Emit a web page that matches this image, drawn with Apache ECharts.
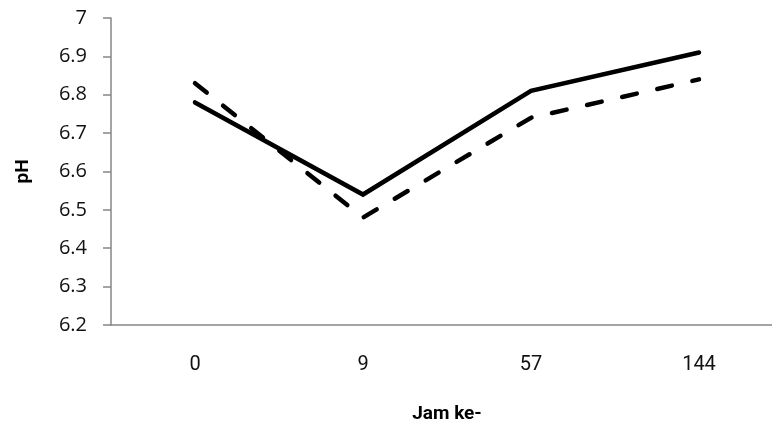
<!DOCTYPE html>
<html>
<head>
<meta charset="utf-8">
<script src="https://cdn.jsdelivr.net/npm/echarts@6/dist/echarts.min.js"></script>
<style>html,body{margin:0;padding:0;background:#fff;}#c{width:772px;height:427px;}</style>
</head>
<body>
<div id="c"></div>
<script>
var categories = ['0', '9', '57', '144'];
var seriesSolid = [6.78, 6.54, 6.81, 6.91];
var seriesDashed = [6.83, 6.48, 6.74, 6.84];
var yMin = 6.2, yMax = 7, yInterval = 0.1;

var chart = echarts.init(document.getElementById('c'), null, {renderer: 'canvas'});
chart.setOption({
  animation: false,
  grid: {left: 111, right: -11, top: 18, bottom: 102, containLabel: false, outerBoundsMode: 'none'},
  xAxis: {
    type: 'category',
    data: categories,
    boundaryGap: true,
    name: 'Jam ke-',
    nameLocation: 'middle',
    nameGap: 80,
    nameTextStyle: {fontFamily: 'Roboto', fontWeight: 'bold', fontSize: 19, color: '#000'},
    axisLine: {lineStyle: {color: '#868686', width: 1.5}},
    axisTick: {show: false},
    axisLabel: {margin: 30, fontFamily: 'Roboto', fontSize: 20, color: '#111'},
    splitLine: {show: false}
  },
  yAxis: {
    type: 'value',
    min: yMin, max: yMax, interval: yInterval,
    name: 'pH',
    nameLocation: 'middle',
    nameGap: 78,
    nameRotate: 90,
    nameTextStyle: {fontFamily: 'Roboto', fontWeight: 'bold', fontSize: 19, color: '#000'},
    axisLine: {show: true, lineStyle: {color: '#868686', width: 1.5}},
    axisTick: {show: true, length: 8, lineStyle: {color: '#868686', width: 1.5}},
    axisLabel: {margin: 24, fontFamily: 'Open Sans', fontSize: 20, color: '#111',
      formatter: function (v) { return (Math.round(v * 10) / 10).toString(); }},
    splitLine: {show: false}
  },
  series: [
    {type: 'line', data: seriesSolid, symbol: 'none',
      lineStyle: {color: '#000', width: 4.5, type: 'solid', cap: 'round', join: 'miter'}},
    {type: 'line', data: seriesDashed, symbol: 'none',
      lineStyle: {color: '#000', width: 4.5, type: [15, 21], cap: 'round', join: 'miter'}}
  ]
});
</script>
</body>
</html>
